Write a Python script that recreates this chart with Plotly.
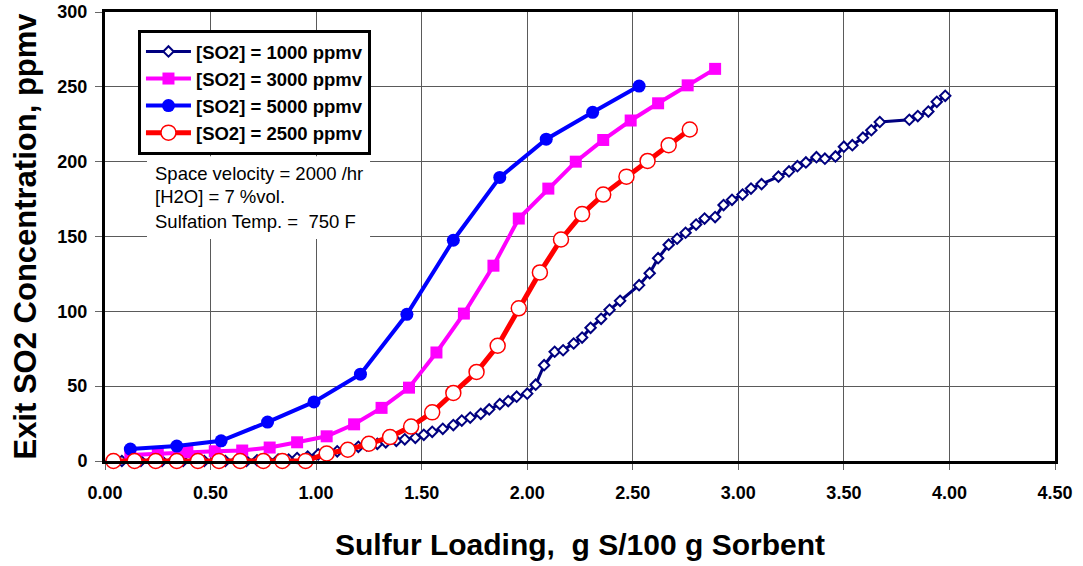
import plotly.graph_objects as go

# ---- data ----
so2_1000_x = [0.03, 0.08, 0.13, 0.17, 0.22, 0.27, 0.32, 0.37, 0.42, 0.47, 0.52, 0.57, 0.62, 0.67,
              0.72, 0.77, 0.82, 0.87, 0.91, 0.96, 1.01, 1.06, 1.10, 1.15, 1.20, 1.24, 1.29, 1.33,
              1.38, 1.42, 1.47, 1.51, 1.55, 1.60, 1.65, 1.69, 1.73, 1.78, 1.82, 1.87, 1.91, 1.95,
              2.00, 2.04, 2.08, 2.13, 2.17, 2.22, 2.26, 2.30, 2.35, 2.39, 2.44, 2.53, 2.58, 2.62,
              2.67, 2.71, 2.75, 2.80, 2.84, 2.89, 2.93, 2.97, 3.02, 3.06, 3.11, 3.19, 3.24, 3.28,
              3.32, 3.37, 3.41, 3.46, 3.50, 3.54, 3.59, 3.63, 3.67, 3.81, 3.85, 3.90, 3.94, 3.98]
so2_1000_y = [0, 0, 0, 0, 0, 0, 0, 0, 0, 0, 0, 0, 0, 0,
              0.5, 0.5, 1, 1, 2, 3, 4.5, 5.5, 6.5, 8, 9.5, 10.5, 11.5, 12.5,
              13.5, 14.5, 15.5, 17.5, 19.5, 21.5, 24, 27, 29, 31.5, 34.5, 38, 40, 43,
              45, 51, 64, 73, 74, 78.5, 82.5, 89, 95, 101, 107, 117.5, 125.5, 135.5,
              144.5, 148.5, 152.5, 158, 162, 163, 171, 174.5, 178, 182, 185, 190, 193.5, 197,
              199.5, 203, 202, 203.5, 210, 211, 216, 221, 226.5, 228, 230.5, 233.5, 240, 244]

so2_3000_x = [0.12, 0.25, 0.39, 0.52, 0.65, 0.78, 0.91, 1.05, 1.18, 1.31, 1.44, 1.57, 1.70, 1.84,
              1.96, 2.10, 2.23, 2.36, 2.49, 2.62, 2.76, 2.89]
so2_3000_y = [4, 5, 6, 6.5, 7, 9, 12.5, 16.5, 24.5, 35.5, 49, 72.5, 98.5, 130.5,
              162, 182, 200, 214.5, 227.5, 239, 251, 262]

so2_5000_x = [0.12, 0.34, 0.55, 0.77, 0.99, 1.21, 1.43, 1.65, 1.87, 2.09, 2.31, 2.53]
so2_5000_y = [8, 10, 13.5, 26, 39.5, 58, 98, 147.5, 189.5, 215, 233, 250.5]

so2_2500_x = [0.04, 0.14, 0.24, 0.34, 0.44, 0.54, 0.64, 0.75, 0.84, 0.95, 1.05, 1.15, 1.25, 1.35,
              1.45, 1.55, 1.65, 1.76, 1.86, 1.96, 2.06, 2.16, 2.26, 2.36, 2.47, 2.57, 2.67, 2.77]
so2_2500_y = [0, 0, 0, 0, 0, 0, 0, 0, 0, 0, 5, 7.5, 11.5, 16,
              23, 32.5, 45.5, 59.5, 77, 102, 126, 148, 165, 178, 190, 200.5, 211, 221.5]

series_names = ["[SO2] = 1000 ppmv", "[SO2] = 3000 ppmv", "[SO2] = 5000 ppmv", "[SO2] = 2500 ppmv"]
x_ticks = [0, 0.5, 1.0, 1.5, 2.0, 2.5, 3.0, 3.5, 4.0, 4.5]
y_ticks = [0, 50, 100, 150, 200, 250, 300]
note_lines = ["Space velocity = 2000 /hr", "[H2O] = 7 %vol.", "Sulfation Temp. =  750 F"]

FONT = "Liberation Sans, Arial, sans-serif"

fig = go.Figure()
fig.add_trace(go.Scatter(
    x=so2_1000_x, y=so2_1000_y, name=series_names[0], mode="lines+markers", legendgroup="a",
    line=dict(color="#000080", width=3),
    marker=dict(symbol="diamond", size=8, color="white", line=dict(color="#000080", width=2)),
    cliponaxis=False))
fig.add_trace(go.Scatter(
    x=so2_3000_x, y=so2_3000_y, name=series_names[1], mode="lines+markers", legendgroup="b",
    line=dict(color="#FF00FF", width=4),
    marker=dict(symbol="square", size=12, color="#FF00FF"),
    cliponaxis=False))
fig.add_trace(go.Scatter(
    x=so2_5000_x, y=so2_5000_y, name=series_names[2], mode="lines+markers", legendgroup="c",
    line=dict(color="#0000FF", width=4),
    marker=dict(symbol="circle", size=13, color="#0000FF"),
    cliponaxis=False))
fig.add_trace(go.Scatter(
    x=so2_2500_x, y=so2_2500_y, name=series_names[3], mode="lines+markers", legendgroup="d",
    line=dict(color="#FF0000", width=5),
    marker=dict(symbol="circle", size=15, color="white", line=dict(color="#FF0000", width=1.5)),
    cliponaxis=False))

# annotation box (white background covering grid)
fig.add_shape(type="rect", xref="paper", yref="paper", x0=0.0442, x1=0.279, y0=0.4944, y1=0.679,
              fillcolor="white", line=dict(width=0), layer="above")
for i, t in enumerate(note_lines):
    fig.add_annotation(xref="paper", yref="paper", x=0.0502, y=[0.6414, 0.588, 0.5345][i],
                       xanchor="left", yanchor="middle", text=t, showarrow=False,
                       font=dict(family=FONT, size=18.5, color="black"))

fig.update_layout(
    width=1083, height=566,
    margin=dict(l=105, r=28, t=12, b=105, autoexpand=False),
    plot_bgcolor="white", paper_bgcolor="white",
    font=dict(family=FONT, color="black"),
    showlegend=True,
    legend=dict(x=0.0347, y=0.96, xanchor="left", yanchor="top",
                bgcolor="white", bordercolor="black", borderwidth=3,
                font=dict(family=FONT, size=18.5, weight="bold", color="black"),
                itemwidth=45, tracegroupgap=0, traceorder="grouped"),
)
fig.update_xaxes(
    range=[0, 4.5], tickvals=x_ticks, tickformat=".2f",
    showgrid=True, gridcolor="#5a5a5a", gridwidth=1, zeroline=False,
    showline=True, linecolor="black", linewidth=3, mirror=True,
    ticks="outside", ticklen=6, tickcolor="#666666",
    tickfont=dict(family=FONT, size=18, weight="bold", color="black"),
    ticklabelstandoff=7, ticklabeloverflow="allow", automargin=False,
    title=dict(text="Sulfur Loading,  g S/100 g Sorbent", standoff=33,
               font=dict(family=FONT, size=30, weight="bold", color="black")))
fig.update_yaxes(
    range=[0, 300], tickvals=y_ticks,
    showgrid=True, gridcolor="#5a5a5a", gridwidth=1, zeroline=False,
    showline=True, linecolor="black", linewidth=3, mirror=True,
    ticks="outside", ticklen=7, tickcolor="#666666",
    tickfont=dict(family=FONT, size=18, weight="bold", color="black"),
    ticklabelstandoff=4, ticklabeloverflow="allow", automargin=False,
    title=dict(text="Exit SO2 Concentration, ppmv", standoff=12,
               font=dict(family=FONT, size=31, weight="bold", color="black")))

# remove the default page margin so the figure sits at the window's top-left corner
fig.write_html("out.html", config={"displayModeBar": False},
               post_script="document.body.style.margin='0';")
